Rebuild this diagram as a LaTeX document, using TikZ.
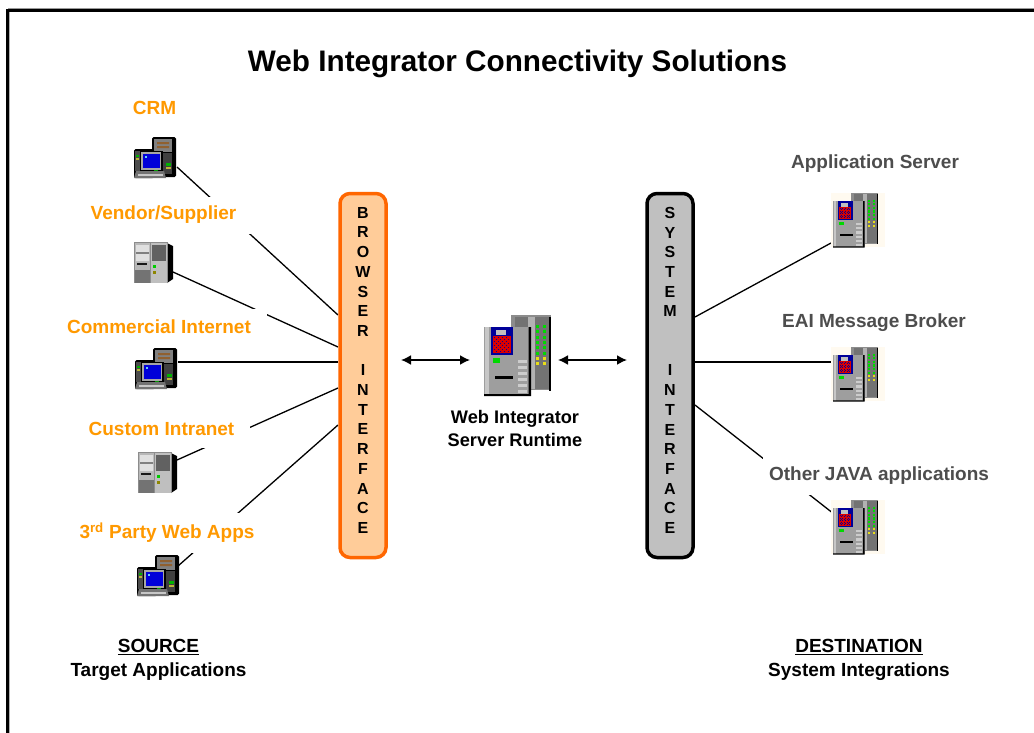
\documentclass[tikz,border=0pt]{standalone}
\usepackage{fontspec}
\setmainfont{Liberation Sans}
\usetikzlibrary{arrows.meta}
\definecolor{lab}{RGB}{255,153,0}
\definecolor{greylab}{RGB}{77,77,77}
\definecolor{bzfill}{RGB}{255,204,153}
\definecolor{bzline}{RGB}{255,102,0}
\definecolor{szfill}{RGB}{192,192,192}
\definecolor{cream}{RGB}{255,250,240}
\tikzset{
 x=1pt,y=-1pt,
 title/.style={font=\fontsize{29.7}{32}\bfseries,text=black,inner sep=0pt},
 srclab/.style={font=\fontsize{19}{22}\bfseries,text=lab,fill=white,inner xsep=16pt,inner ysep=0pt,minimum height=37pt},
 dstlab/.style={font=\fontsize{19}{22}\bfseries,text=greylab,fill=white,inner xsep=6pt,inner ysep=0pt,minimum height=38pt},
 foot/.style={font=\fontsize{19}{24}\bfseries,align=center,inner sep=0pt},
 run/.style={font=\fontsize{18.2}{23}\bfseries,align=center,inner sep=0pt},
 barbox/.style={rounded corners=10pt,line width=3.5pt},
 vert/.style={font=\fontsize{16}{19.7}\bfseries,align=center,inner sep=0pt,text width=20pt},
 conn/.style={line width=1.3pt,black},
 dbl/.style={line width=1.7pt,black,{Latex[length=10pt,width=10pt]}-{Latex[length=10pt,width=10pt]}},
 pc/.pic={
  \fill[black,rounded corners=1.5pt] (18,0) rectangle (42,40);
  \fill[black!50] (20,2) rectangle (38,15);
  \fill[brown!75!black] (23,5) rectangle (35,7) (23,9) rectangle (35,11);
  \fill[black!75] (20,16) rectangle (38,37);
  \fill[green!70!black] (32,26) rectangle (37,29);
  \fill[yellow!70!black] (32,30) rectangle (37,32);
  \fill[black,rounded corners=1.5pt] (0,12) rectangle (20,41);
  \fill[black!70] (1,14) rectangle (7,34);
  \fill[green!70!black] (2,18) rectangle (5,20);
  \fill[yellow!70!black] (2,21) rectangle (5,23);
  \fill[black] (6,14) rectangle (29,35);
  \fill[black!35] (7,15) rectangle (27,33);
  \fill[blue!85!black] (9,17) rectangle (26,31);
  \fill[cyan!60] (11,19) rectangle (13,21);
  \fill[black!55] (2,34) -- (30,34) -- (32,41) -- (0,41) -- cycle;
  \fill[black!22] (4,36.5) rectangle (29,39);
  \fill[green!60!black] (20,32.5) rectangle (24,34);
 },
 tower/.pic={
  \fill[black] (33,1) -- (39,4) -- (39,37) -- (33,41) -- cycle;
  \fill[black!45] (0,0) rectangle (34,41);
  \fill[black!28] (1,1) rectangle (16,41);
  \fill[black!12] (2,3) rectangle (15,10) (2,12) rectangle (15,19);
  \fill[black!50] (2,10) rectangle (15,12);
  \fill[black!90] (3,21) rectangle (13,23);
  \fill[black!55] (1,28) rectangle (16,41);
  \fill[black!25] (17,1) rectangle (33,41);
  \fill[black!62] (18,3) rectangle (32,19);
  \fill[green!80!black] (19,23) rectangle (22,26);
  \fill[olive] (19,29) rectangle (22,32);
 },
 server/.pic={
  \fill[black!45] (27,0) rectangle (67,75);
  \fill[black!55] (31,2) rectangle (65,74);
  \fill[black!30] (44,2) rectangle (51,74);
  \fill[black] (65,2) rectangle (67,76);
  \foreach \xx in {52,59}{
   \foreach \yy in {10,15.3,20.6,25.9,31.2,36.5}{\fill[green!85!black] (\xx,\yy) rectangle +(3,3);}
   \foreach \yy in {42,47}{\fill[yellow!90!black] (\xx,\yy) rectangle +(3,3);}
  }
  \fill[black!38] (0,12) rectangle (47,80);
  \fill[black!22] (1,12) rectangle (5,80);
  \fill[black] (44.5,12) rectangle (47,81) (0,79) rectangle (47,81);
  \fill[blue!60!black] (7,12) rectangle (29,40);
  \fill[red!85!black] (9,21) rectangle (27,38);
  \foreach \yy in {22,26,30,34}{\foreach \xx in {10,14,18,22}{\fill[blue!60!black] (\xx,\yy) rectangle +(1.3,1.3);\fill[blue!60!black] (\xx+2,\yy+2) rectangle +(1.3,1.3);}}
  \fill[black!25] (12,15) rectangle (22,20);
  \fill[green!85!black] (9,43) rectangle (16,48);
  \fill[black] (11,61) rectangle (29,63.5);
  \foreach \yy in {45,51,57,63,69,75}{\fill[black!20] (34,\yy) rectangle +(9,3);}
 },
}
\begin{document}
\begin{tikzpicture}
\useasboundingbox (0,0) rectangle (1034,732);
\fill[white] (0,0) rectangle (1034,732);
\fill[black!40] (8,8) rectangle (1034,9);
\fill[black!30] (9.3,12) rectangle (10.2,733);
\draw[line width=3.3pt,black] (7.7,733) -- (7.7,10.6) -- (1035,10.6);
% anchors
\coordinate (a1) at (177,167); \coordinate (b1) at (338,315);
\coordinate (a2) at (173,272); \coordinate (b2) at (338,347);
\coordinate (a3) at (178,362); \coordinate (b3) at (338,362);
\coordinate (a4) at (177,460); \coordinate (b4) at (338,388);
\coordinate (a5) at (178,566); \coordinate (b5) at (338,425);
\coordinate (c1) at (695,317); \coordinate (d1) at (831,243);
\coordinate (c2) at (695,362); \coordinate (d2) at (832,362);
\coordinate (c3) at (695,405); \coordinate (d3) at (834,514);
\foreach \n in {1,...,5}{\draw[conn] (a\n) -- (b\n);}
\foreach \n in {1,2,3}{\draw[conn] (c\n) -- (d\n);}
% labels
\node[title] (ttl) at (517.5,63.5) {Web Integrator Connectivity Solutions};
\node[srclab] (l1) at (154.5,108) {CRM};
\node[srclab] (l2) at (163.5,215) {Vendor/Supplier};
\node[srclab] (l3) at (159,327) {Commercial Internet};
\node[srclab] (l4) at (161.5,429) {Custom Intranet};
\node[srclab,minimum height=40pt] (l5) at (167,533) {3\textsuperscript{rd} Party Web Apps};
\node[dstlab] (r1) at (875,164) {Application Server};
\node[dstlab] (r2) at (874,323) {EAI Message Broker};
\node[dstlab] (r3) at (879,476) {Other JAVA applications};
% icons
\pic at (134,137) {pc};
\pic at (134,242) {tower};
\pic at (135,348) {pc};
\pic at (138,452) {tower};
\pic at (137,555) {pc};
\pic at (484,315) {server};
\foreach \yy in {193,347,500}{\fill[cream] (831,\yy) rectangle (885,\yy+54);}
\pic[scale=0.675] at (833,193) {server};
\pic[scale=0.675] at (833,347) {server};
\pic[scale=0.675] at (833,500) {server};
% bars
\draw[barbox,draw=bzline,fill=bzfill] (340,193.5) rectangle (386,557.5);
\draw[barbox,draw=black,fill=szfill] (647,193.5) rectangle (693,557.5);
\node[vert,anchor=north] (bt) at (363,207) {B\\R\\O\\W\\S\\E\\R\\[19.7pt]I\\N\\T\\E\\R\\F\\A\\C\\E};
\node[vert,anchor=north] (st) at (670,207) {S\\Y\\S\\T\\E\\M\\[39.4pt]I\\N\\T\\E\\R\\F\\A\\C\\E};
% runtime
\coordinate (e1) at (401,360); \coordinate (e2) at (470,360);
\coordinate (e3) at (558,360); \coordinate (e4) at (627,360);
\draw[dbl] (e1) -- (e2);
\draw[dbl] (e3) -- (e4);
\node[run] (rt) at (515,428) {Web Integrator\\Server Runtime};
\node[foot] (sf) at (158.5,659.5) {\underline{SOURCE}\\Target Applications};
\node[foot] (df) at (859,659.5) {\underline{DESTINATION}\\System Integrations};
\end{tikzpicture}
\end{document}
